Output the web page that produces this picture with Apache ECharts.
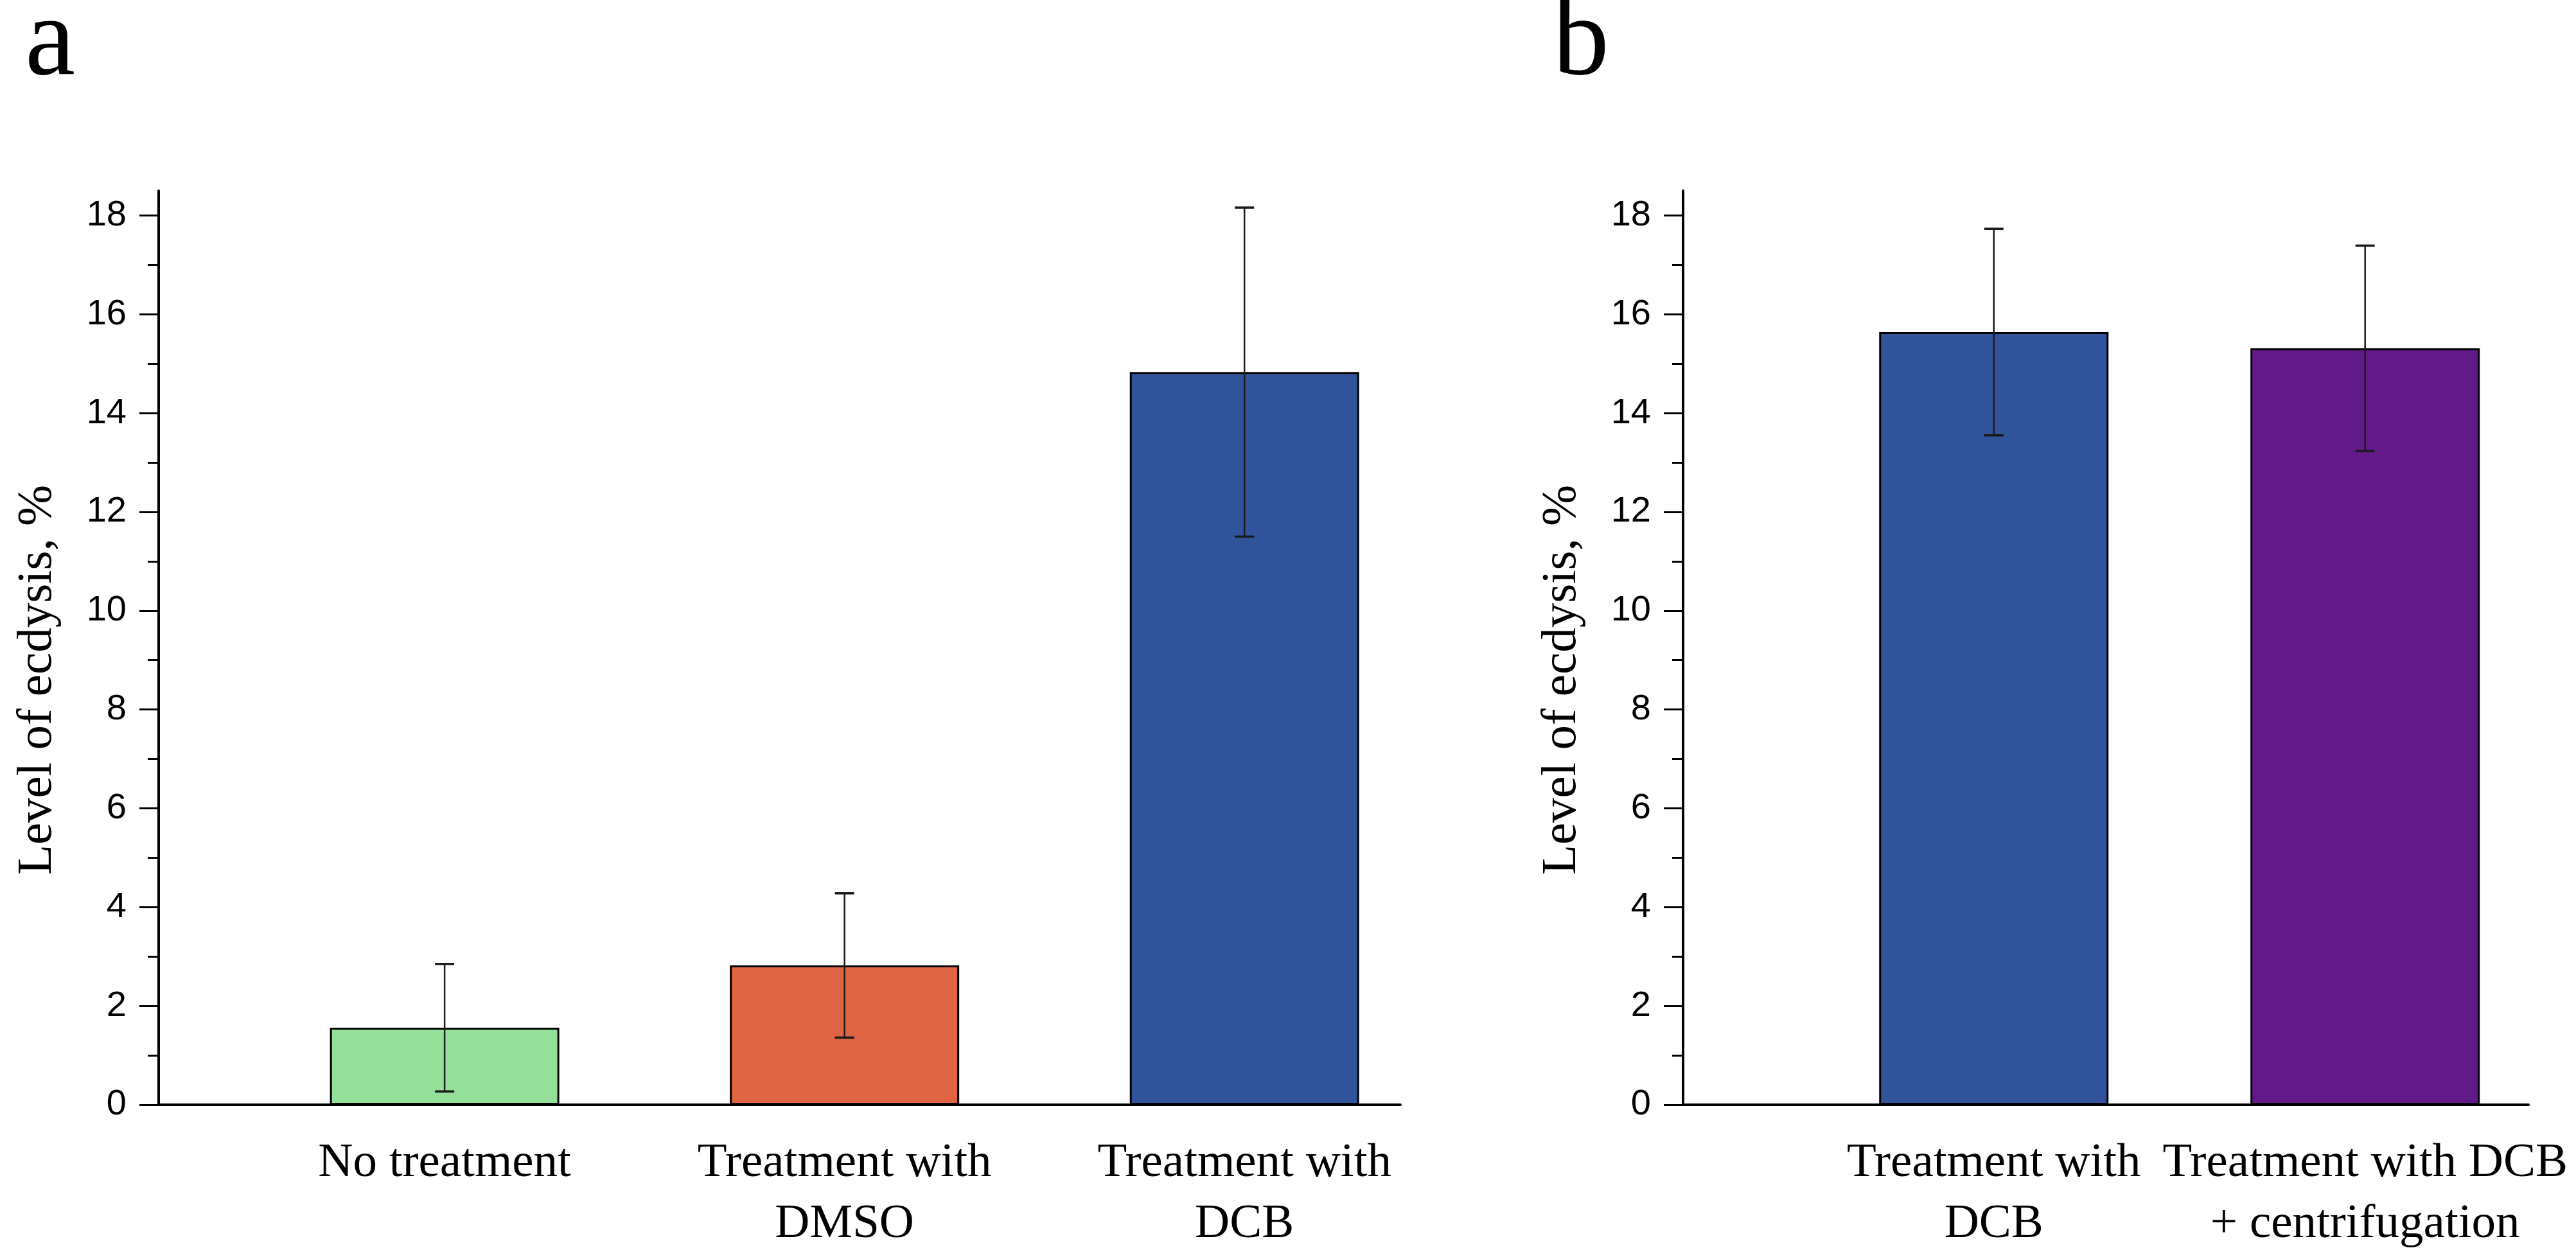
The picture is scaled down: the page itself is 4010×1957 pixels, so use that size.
<!DOCTYPE html>
<html>
<head>
<meta charset="utf-8">
<script src="https://cdn.jsdelivr.net/npm/echarts@6/dist/echarts.min.js"></script>
<style>
html, body { margin: 0; padding: 0; background: #ffffff; }
#chart { width: 4010px; height: 1957px; }
</style>
</head>
<body>
<div id="chart"></div>
<script>
// ---- data ----
const leftCategories = ['No treatment', 'Treatment with\nDMSO', 'Treatment with\nDCB'];
const leftMeans = [1.56, 2.82, 14.83];
const leftErrors = [1.29, 1.46, 3.33];
const leftColors = ['#94DF99', '#DF6443', '#31539C'];

const rightCategories = ['Treatment with\nDCB', 'Treatment with DCB\n+ centrifugation'];
const rightMeans = [15.64, 15.31];
const rightErrors = [2.09, 2.08];
const rightColors = ['#31539C', '#621A88'];

const yMajorTicks = [0, 2, 4, 6, 8, 10, 12, 14, 16, 18];
const yMinorTicks = [1, 3, 5, 7, 9, 11, 13, 15, 17];
const yTitle = 'Level of ecdysis, %';
const panelLabels = ['a', 'b'];

// ---- build ----
const SERIF = '"Liberation Serif", "Times New Roman", serif';
const SANS = '"Liberation Sans", Arial, sans-serif';
const Y_MAX = 18.5;

function xAxisFor(gridIndex, min, max, cats) {
  return {
    type: 'value', gridIndex: gridIndex, min: min, max: max,
    axisLine: { show: true, onZero: false, lineStyle: { color: '#000', width: 4 } },
    axisTick: { show: false },
    splitLine: { show: false },
    axisLabel: {
      customValues: cats.map((c, i) => i + 1),
      formatter: v => cats[Math.round(v) - 1] || '',
      fontFamily: SERIF, fontSize: 75, lineHeight: 95, color: '#000',
      margin: 44, align: 'center', verticalAlign: 'top'
    }
  };
}

function yAxesFor(gridIndex) {
  return [
    {
      type: 'value', gridIndex: gridIndex, min: 0, max: Y_MAX, position: 'left',
      name: yTitle, nameLocation: 'middle', nameGap: 150,
      nameTextStyle: { fontFamily: SERIF, fontSize: 77, color: '#000', padding: [0, 100, 0, 0] },
      axisLine: { show: true, lineStyle: { color: '#000', width: 4 } },
      axisTick: { show: true, length: 30, customValues: yMajorTicks, lineStyle: { color: '#000', width: 3 } },
      axisLabel: { customValues: yMajorTicks, fontFamily: SANS, fontSize: 56, color: '#000', margin: 50 },
      splitLine: { show: false }
    },
    {
      type: 'value', gridIndex: gridIndex, min: 0, max: Y_MAX, position: 'left',
      axisLine: { show: false },
      axisTick: { show: true, length: 17, customValues: yMinorTicks, lineStyle: { color: '#000', width: 3 } },
      axisLabel: { show: false },
      splitLine: { show: false }
    }
  ];
}

function barSeries(xi, yi, means, colors) {
  return {
    type: 'bar', xAxisIndex: xi, yAxisIndex: yi, barWidth: 357,
    data: means.map((v, i) => ({ value: [i + 1, v], itemStyle: { color: colors[i] } })),
    itemStyle: { borderColor: '#000', borderWidth: 3 },
    silent: true, z: 2
  };
}

function errorSeries(xi, yi, means, errs) {
  return {
    type: 'custom', xAxisIndex: xi, yAxisIndex: yi, z: 5, silent: true,
    encode: { x: 0, y: [1, 2] },
    data: means.map((v, i) => [i + 1, v - errs[i], v + errs[i]]),
    renderItem: function (params, api) {
      const x = api.value(0);
      const lo = api.coord([x, api.value(1)]);
      const hi = api.coord([x, api.value(2)]);
      const w = 15;
      const st = { stroke: '#1a1a1a', lineWidth: 2.5 };
      const cst = { stroke: '#1a1a1a', lineWidth: 3.5 };
      return {
        type: 'group',
        children: [
          { type: 'line', shape: { x1: hi[0], y1: hi[1], x2: lo[0], y2: lo[1] }, style: st },
          { type: 'line', shape: { x1: hi[0] - w, y1: hi[1], x2: hi[0] + w, y2: hi[1] }, style: cst },
          { type: 'line', shape: { x1: lo[0] - w, y1: lo[1], x2: lo[0] + w, y2: lo[1] }, style: cst }
        ]
      };
    }
  };
}

const chart = echarts.init(document.getElementById('chart'), null, { renderer: 'canvas', width: 4010, height: 1957 });

const option = {
  backgroundColor: '#ffffff',
  animation: false,
  title: [
    { text: panelLabels[0], left: 34, top: -24, textStyle: { fontFamily: SERIF, fontSize: 176, fontWeight: 'normal', color: '#000' } },
    { text: panelLabels[1], left: 2412, top: -24, textStyle: { fontFamily: SERIF, fontSize: 176, fontWeight: 'normal', color: '#000' } }
  ],
  grid: [
    { left: 247, right: 1830, top: 297, bottom: 237, containLabel: false },
    { left: 2620, right: 74, top: 297, bottom: 237, containLabel: false }
  ],
  xAxis: [
    xAxisFor(0, 0.285, 3.39, leftCategories),
    xAxisFor(1, 0.163, 2.44, rightCategories)
  ],
  yAxis: yAxesFor(0).concat(yAxesFor(1)),
  series: [
    barSeries(0, 0, leftMeans, leftColors),
    errorSeries(0, 0, leftMeans, leftErrors),
    barSeries(1, 2, rightMeans, rightColors),
    errorSeries(1, 2, rightMeans, rightErrors)
  ]
};
chart.setOption(option);
</script>
</body>
</html>
